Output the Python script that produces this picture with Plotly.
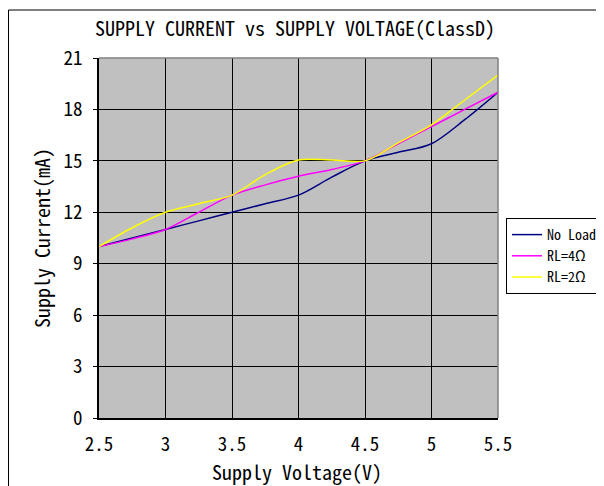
import plotly.graph_objects as go

voltage = [2.5, 2.75, 3.0, 3.25, 3.5, 3.75, 4.0, 4.25, 4.5, 4.75, 5.0, 5.25, 5.5]
no_load = [10, 10.5, 11, 11.5, 12, 12.5, 13, 14.05, 15, 15.5, 16.0, 17.4, 19]
rl_4 = [10, 10.45, 11, 12.0, 13, 13.6, 14.1, 14.5, 15, 16.0, 17.0, 18.0, 19]
rl_2 = [10, 11.1, 12.0, 12.5, 13, 14.2, 15.05, 15.05, 15, 16.05, 17.1, 18.55, 20]

x_ticks = [2.5, 3, 3.5, 4, 4.5, 5, 5.5]
x_tick_labels = ["2.5", "3", "3.5", "4", "4.5", "5", "5.5"]
y_ticks = [0, 3, 6, 9, 12, 15, 18, 21]

FONT = "Noto Sans Mono CJK SC, Liberation Mono, DejaVu Sans Mono, monospace"

fig = go.Figure()
for name, ys, col in [("No Load", no_load, "#000080"),
                      ("RL=4Ω", rl_4, "#FF00FF"),
                      ("RL=2Ω", rl_2, "#FFFF00")]:
    fig.add_trace(go.Scatter(x=voltage, y=ys, name=name, mode="lines",
                             line=dict(color=col, width=1.5, shape="spline", smoothing=0.9)))

# page has an 8px body margin; figure coordinates = screen - 8
OFF = 8
W, H = 604 - 2 * OFF, 486 - OFF
L, R, T, B = 99 - OFF, 498 - OFF, 58 - OFF, 418 - OFF

def px2x(px):
    return (px - OFF - L) / (R - L)

def py2y(py):
    return (B - (py - OFF)) / (B - T)

fig.update_layout(
    width=W, height=H,
    margin=dict(l=L, r=W - R, t=T, b=H - B, pad=0, autoexpand=False),
    paper_bgcolor="white",
    plot_bgcolor="#C0C0C0",
    font=dict(family=FONT, color="black", size=16),
    title=dict(text="SUPPLY CURRENT vs SUPPLY VOLTAGE(ClassD)",
               x=(295 - OFF) / W, xanchor="center", y=1 - (29 - OFF) / H, yanchor="middle",
               font=dict(family=FONT, size=20, color="black")),
    xaxis=dict(range=[2.5, 5.5], tickvals=x_ticks, ticktext=x_tick_labels,
               showgrid=True, gridcolor="black", gridwidth=1,
               showline=True, linecolor="black", linewidth=1.5, mirror=False,
               zeroline=False, ticks="", ticklabelstandoff=8,
               tickfont=dict(family=FONT, size=19)),
    yaxis=dict(range=[0, 21], tickvals=y_ticks,
               showgrid=True, gridcolor="black", gridwidth=1,
               showline=True, linecolor="black", linewidth=1.5, mirror=False,
               zeroline=False, ticks="outside", ticklen=4, tickcolor="black",
               ticklabelstandoff=7,
               tickfont=dict(family=FONT, size=19),
               title=dict(text="Supply Current(mA)", standoff=7,
                          font=dict(family=FONT, size=20))),
    legend=dict(x=px2x(506), y=py2y(218), xanchor="left", yanchor="top",
                bgcolor="white", bordercolor="black", borderwidth=1,
                font=dict(family=FONT, size=14, color="black"),
                tracegroupgap=0, itemwidth=30),
    showlegend=True,
)

fig.add_annotation(text="Supply Voltage(V)", xref="paper", yref="paper",
                   x=px2x(297), y=py2y(472), xanchor="center", yanchor="middle",
                   showarrow=False, font=dict(family=FONT, size=20, color="black"))

# gray border on top and right of plot area
fig.add_shape(type="line", xref="paper", yref="paper", x0=0, x1=1, y0=1, y1=1,
              line=dict(color="#808080", width=1.5))
fig.add_shape(type="line", xref="paper", yref="paper", x0=1, x1=1, y0=0, y1=1,
              line=dict(color="#808080", width=1.5))
# outer chart frame
fig.add_shape(type="line", xref="paper", yref="paper", x0=px2x(8.5), x1=px2x(612), y0=py2y(10), y1=py2y(10),
              line=dict(color="black", width=1))
fig.add_shape(type="line", xref="paper", yref="paper", x0=px2x(8.5), x1=px2x(8.5), y0=py2y(10), y1=py2y(490),
              line=dict(color="black", width=1))

fig.write_html("out.html")
